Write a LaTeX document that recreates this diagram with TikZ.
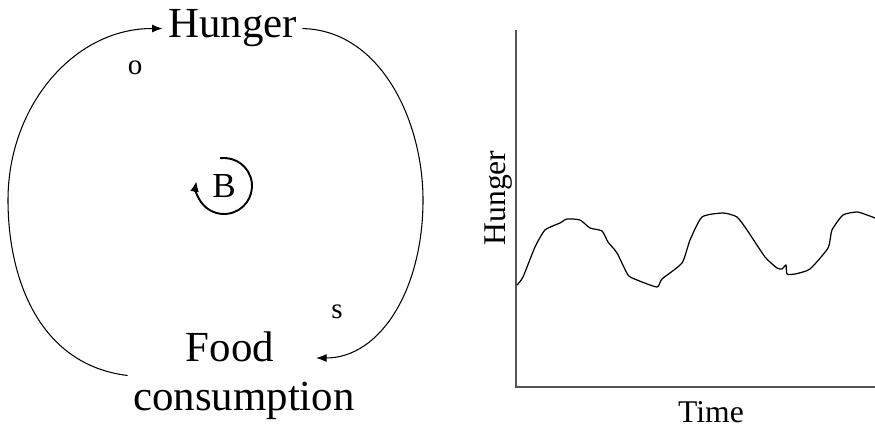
\documentclass[tikz,border=0pt]{standalone}
\usepackage{fontspec}
\setmainfont{Liberation Serif}
\usetikzlibrary{arrows.meta}

\begin{document}
\begin{tikzpicture}[
    x=0.02cm,
    y=-0.02cm,
    var/.style={font=\fontsize{24.4}{27.8}\selectfont, inner sep=3pt},
    sign/.style={font=\fontsize{16.5}{18}\selectfont, inner sep=0pt},
    link/.style={black, line width=0.6pt, -{Latex[length=6pt,width=4.5pt]}},
    loopmark/.style={black, line width=1.1pt, -{Latex[length=6pt,width=5pt]}},
    axis/.style={black!67, line width=1.2pt},
    axislabel/.style={font=\fontsize{18}{20}\selectfont, inner sep=0pt},
    hungerline/.style={black, line width=0.7pt, line join=round}
]

\useasboundingbox (0,0) rectangle (875,428);

% =========================================================
% PARAMETERS
% =========================================================

\def\xO{516}
\def\yO{387}
\def\ytop{30}
\def\xend{875}

% =========================================================
% CAUSAL LOOP
% =========================================================

% Variables
\node[var, anchor=base] (hunger) at (232.5,38) {Hunger};
\node[var, align=center] (food) at (244,375.5) {Food\hspace*{16pt}\\consumption};
\coordinate (foodin) at (316,358);

% Links
\draw[link] (food.west)
  .. controls (40,365) and (8,280) .. (8,200)
  .. controls (8,105) and (75,28) .. (hunger.west);
\draw[link] (hunger.east)
  .. controls (380,30) and (423,120) .. (423,200)
  .. controls (423,290) and (380,358) .. (foodin);

% Polarities
\node[sign] (pol-o) at (135,67.5) {o};
\node[sign] (pol-s) at (337,311.5) {s};

% Loop marker
\node[font=\fontsize{20}{22}\selectfont, inner sep=0pt] (loopB) at (224,186) {B};
\draw[loopmark] (loopB.center) ++(-98:28) arc[start angle=-98, end angle=190, radius=28];

% =========================================================
% BEHAVIOUR OVER TIME
% =========================================================

% Axes
\draw[axis] (\xO,\ytop) |- (\xend,\yO);

% Labels
\node[axislabel, rotate=90] (ylab) at (499,198) {Hunger};
\node[axislabel] (xlab) at (711,412) {Time};

% Hunger
\draw[hungerline] plot[smooth, tension=0.35] coordinates {
  (517,285) (523,277) (535,247) (545,230) (560,223) (567,219)
  (580,220) (590,228) (602,231) (608,242) (617,253) (628,275)
  (637,280) (657,287) (662,279) (682,263) (690,240) (702,217)
  (723,213) (737,217) (747,230) (765,257) (777,268) (782,269)
  (786,265) (787,274) (795,274) (810,269) (828,248) (832,230)
  (843,215) (857,212) (867,215) (875,218)
};

\end{tikzpicture}
\end{document}
